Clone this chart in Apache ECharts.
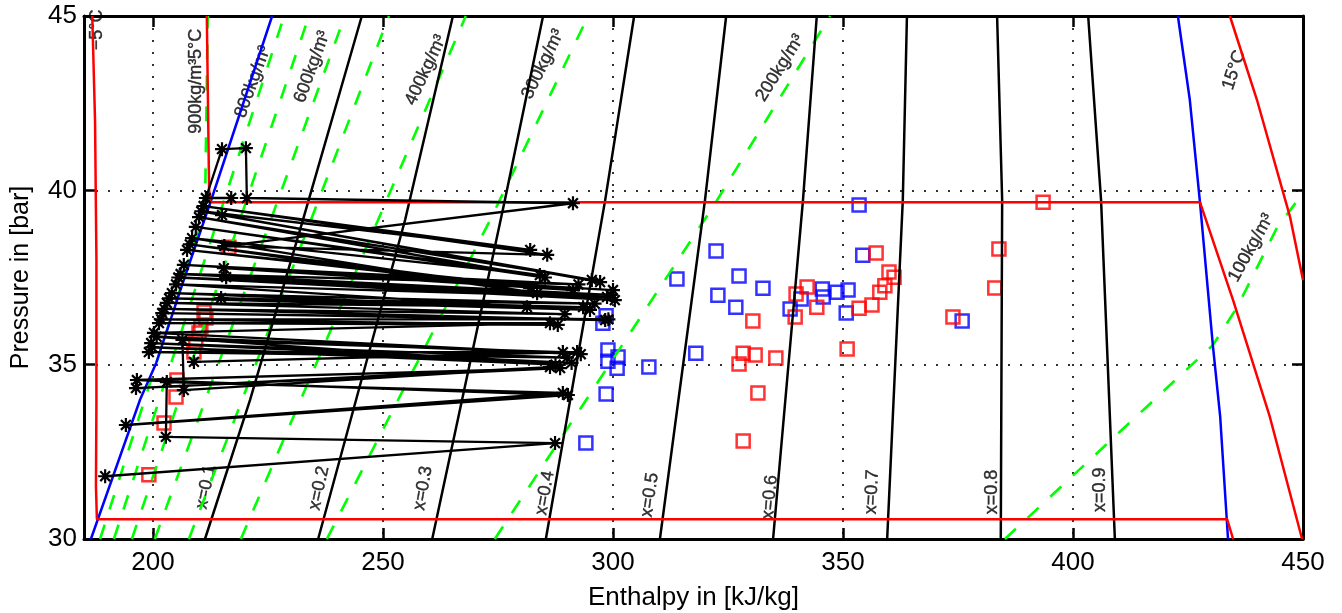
<!DOCTYPE html>
<html>
<head>
<meta charset="utf-8">
<title>p-h diagram</title>
<script src="https://cdn.jsdelivr.net/npm/echarts@6/dist/echarts.min.js"></script>
<style>
  html, body { margin: 0; padding: 0; background: #fff; }
  #chart { width: 1342px; height: 613px; }
</style>
</head>
<body>
<div id="chart"></div>
<script>
// saturation curve (liquid / vapour side), [h kJ/kg, p bar]
var satLiquid = [[186.5,30],[197.2,34.0],[200.7,35.05],[206.7,37.43],[212.8,39.78],[225.9,45]];
var satVapour = [[433.7,30],[432.0,33.5],[430.4,35.56],[427.6,39.66],[425.4,42.59],[422.8,45]];

// isotherms
var isoMinus5 = [[186.8,45],[187.4,42],[187.7,38],[187.7,34],[187.6,31.5],[187.8,30.57],[433.5,30.57],[434.8,30]];
var iso5 = [[211.7,45],[212.2,40.0],[212.5,39.66],[427.6,39.66],[434.8,36.85],[442.8,33.5],[449.8,30.0]];
var iso15 = [[434.1,45],[440.0,42.59],[447.2,39.23],[450,37.43]];

// lines of constant quality
var x01 = [[211.3,30],[221.1,33.99],[232.6,39.15],[245.4,45]];
var x02 = [[235.9,30],[254.8,39.15],[265.2,45]];
var x03 = [[260.7,30],[276.5,39.72],[284.8,45]];
var x04 = [[285.4,30],[298.3,39.72],[304.6,45]];
var x05 = [[310.2,30],[320.0,39.72],[324.6,45]];
var x06 = [[334.8,30],[341.3,39.72],[344.3,45]];
var x07 = [[359.6,30],[363.0,39.72],[363.9,45]];
var x08 = [[384.3,30],[384.6,39.72],[383.5,45]];
var x09 = [[409.1,30],[406.1,39.72],[403.3,45]];

// isochores (kg/m3)
var rho900 = [[188.5,30],[211.3,39.4],[211.9,45]];
var rho800 = [[191.5,30],[228.5,45]];
var rho700 = [[195.4,30],[233.9,45]];
var rho600 = [[200.4,30],[241.7,45]];
var rho500 = [[207.8,30],[251.3,45]];
var rho400 = [[219.1,30],[268.0,45]];
var rho300 = [[237.8,30],[273.3,39.15],[294.6,45]];
var rho200 = [[274.3,30],[321.7,39.52],[347.2,45]];
var rho100 = [[385.2,30],[430.4,35.56],[435.7,36.65],[444.3,38.92],[450,39.92]];

// measured states
var blueSquares = [[353.5,39.58],[322.4,38.26],[313.9,37.46],[327.4,37.54],[332.6,37.19],[322.8,36.99],
  [326.7,36.65],[354.3,38.14],[338.5,36.60],[340.9,36.88],[345.5,37.17],[345.7,36.94],[348.7,37.08],
  [351.1,37.14],[350.7,36.48],[297.8,36.19],[298.5,36.4],[298.9,35.42],[301.1,35.22],[298.9,35.10],
  [300.9,34.90],[307.8,34.93],[318.0,35.33],[298.5,34.16],[294.1,32.75],[375.9,36.25]];
var redSquares = [[330.4,36.25],[342.2,37.23],[339.8,37.03],[339.6,36.37],[344.3,36.65],[353.5,36.62],
  [356.3,36.71],[357.2,38.20],[350.9,35.45],[328.3,35.33],[330.9,35.28],[327.4,35.02],[335.4,35.19],
  [331.5,34.19],[328.3,32.81],[383.9,38.32],[383.0,37.20],[373.9,36.37],[360.0,37.66],[361.1,37.51],
  [359.1,37.26],[358.0,37.08],[393.5,39.66],
  [216.5,38.37],[211.1,36.51],[211.5,36.34],[210.4,36.08],[210.0,35.91],[209.3,35.65],[208.9,35.36],
  [205.2,34.56],[205.0,34.07],[202.4,33.33],[199.1,31.84]];

// cycle trajectory (asterisks)
var cycle = [
  [189.6,31.80],[287.4,32.75],[202.8,32.93],[203.0,34.50],
  [289.1,34.19],[194.1,33.27],[290.2,34.13],[196.5,34.56],
  [288.5,34.90],[196.3,34.33],[286.3,34.93],[206.7,34.27],
  [206.4,35.71],[289.1,35.36],[208.9,35.08],[292.2,35.36],
  [199.1,35.36],[290.0,35.20],[199.6,35.62],[291.0,35.05],
  [199.8,35.50],[287.5,35.00],[200.8,35.80],[293.0,35.30],
  [200.2,35.91],[286.3,36.19],[201.3,36.19],[288.0,36.14],
  [201.8,36.30],[299.0,36.30],[202.0,36.48],[298.3,36.28],
  [202.5,36.60],[289.5,36.45],[203.0,36.77],[293.5,36.65],
  [214.8,36.91],[295.0,36.57],[203.5,36.90],[296.0,36.75],
  [204.1,37.05],[281.3,36.65],[205.0,37.30],[298.7,36.94],
  [215.9,37.51],[300.4,36.85],[205.5,37.50],[299.5,37.00],
  [206.0,37.60],[292.5,37.30],[206.7,37.86],[300.0,37.14],
  [215.4,37.77],[291.3,37.14],[207.4,38.29],[282.0,37.20],
  [208.0,38.45],[283.5,37.05],[208.5,38.63],[284.1,37.57],
  [209.3,38.95],[285.2,37.50],[210.0,39.23],[295.4,37.43],
  [215.0,39.29],[297.2,37.37],[210.5,39.40],[282.0,38.29],
  [211.0,39.55],[285.7,38.15],[215.5,38.40],[291.3,39.63],
  [220.4,39.78],[220.2,41.21],[215.0,41.18],[211.5,39.78],
  [217.0,39.78]
];

// annotation texts: text, h, p, angle
var labelSpots = [
  ['\u22125\u00b0C', 187.8, 44.6, 90],
  ['5\u00b0C', 209.3, 44.2, 90],
  ['900kg/m\u00b3', 209.3, 42.7, 90],
  ['800kg/m\u00b3', 221.7, 43.11, 70],
  ['600kg/m\u00b3', 234.6, 43.54, 70],
  ['400kg/m\u00b3', 259.3, 43.45, 65],
  ['300kg/m\u00b3', 284.8, 43.62, 64],
  ['200kg/m\u00b3', 336.3, 43.51, 58],
  ['100kg/m\u00b3', 438.7, 38.35, 61],
  ['15\u00b0C', 435.0, 43.45, 72],
  ['x=0.1', 211.5, 31.49, 78],
  ['x=0.2', 236.1, 31.46, 78],
  ['x=0.3', 258.7, 31.46, 80],
  ['x=0.4', 285.2, 31.32, 80],
  ['x=0.5', 308.0, 31.26, 82],
  ['x=0.6', 334.1, 31.2, 85],
  ['x=0.7', 356.3, 31.35, 87],
  ['x=0.8', 382.4, 31.35, 90],
  ['x=0.9', 405.9, 31.41, 90]
];

var FONT = 'Liberation Sans, Arial, Helvetica, sans-serif';
var star = 'path://M0,-10L0,10M-10,0L10,0M-7,-7L7,7M-7,7L7,-7';

function curve(data, color, width, dash) {
  return {
    type: 'line', data: data, symbol: 'none', silent: true,
    lineStyle: { color: color, width: width, type: dash || 'solid' }
  };
}

var chart = echarts.init(document.getElementById('chart'));

var series = [];
[rho900, rho800, rho700, rho600, rho500, rho400, rho300, rho200, rho100].forEach(function (d) {
  series.push(curve(d, '#00ff00', 2.6, [15, 16]));
});
[x01, x02, x03, x04, x05, x06, x07, x08, x09].forEach(function (d) {
  series.push(curve(d, '#000', 2.5));
});
series.push(curve(satLiquid, '#0000ff', 2.5));
series.push(curve(satVapour, '#0000ff', 2.5));
series.push(curve(isoMinus5, '#ff0000', 2.5));
series.push(curve(iso5, '#ff0000', 2.5));
series.push(curve(iso15, '#ff0000', 2.5));

series.push({
  type: 'scatter', data: blueSquares, symbol: 'rect', symbolSize: 13, silent: true,
  itemStyle: { color: 'transparent', borderColor: '#0000ff', borderWidth: 2.5 }
});
series.push({
  type: 'line', data: cycle, symbol: star, symbolSize: 14, silent: true,
  lineStyle: { color: '#000', width: 2.3 },
  itemStyle: { color: '#000', borderColor: '#000', borderWidth: 2.2 }
});
series.push({
  type: 'scatter', data: redSquares, symbol: 'rect', symbolSize: 13, silent: true,
  itemStyle: { color: 'transparent', borderColor: '#ff0000', borderWidth: 2.5 }
});
series.push({
  type: 'scatter', symbolSize: 1, silent: true, clip: false,
  itemStyle: { color: 'transparent' },
  data: labelSpots.map(function (s) {
    return {
      value: [s[1], s[2]],
      label: { show: true, position: 'inside', formatter: s[0], rotate: s[3],
               color: '#000', fontSize: 18, fontFamily: FONT,
               textBorderColor: '#000', textBorderWidth: 0.4 }
    };
  })
});

function xAxisDef(pos, main) {
  return {
    type: 'value', position: pos, min: 185, max: 450, minInterval: 50, maxInterval: 50,
    name: main ? 'Enthalpy in [kJ/kg]' : '', nameLocation: 'middle', nameGap: 46,
    nameTextStyle: { color: '#000', fontSize: 26, fontFamily: FONT },
    axisLine: { show: true, onZero: false, lineStyle: { color: '#000', width: 3 } },
    axisTick: { show: true, inside: true, length: 11, lineStyle: { color: '#000', width: 2.5 } },
    axisLabel: { show: main, showMinLabel: false, margin: 11, color: '#000', fontSize: 26, fontFamily: FONT },
    splitLine: { show: main, lineStyle: { color: '#333', width: 2, type: [2, 10] } }
  };
}
function yAxisDef(pos, main) {
  return {
    type: 'value', position: pos, min: 30, max: 45, interval: 5,
    name: main ? 'Pressure in [bar]' : '', nameLocation: 'middle', nameGap: 50,
    nameTextStyle: { color: '#000', fontSize: 25, fontFamily: FONT },
    axisLine: { show: true, onZero: false, lineStyle: { color: '#000', width: 3 } },
    axisTick: { show: true, inside: true, length: 11, lineStyle: { color: '#000', width: 2.5 } },
    axisLabel: { show: main, margin: 7, color: '#000', fontSize: 26, fontFamily: FONT },
    splitLine: { show: main, lineStyle: { color: '#333', width: 2, type: [2, 10] } }
  };
}

var option = {
  animation: false,
  backgroundColor: '#fff',
  grid: { left: 84, right: 39, top: 16, bottom: 74, outerBoundsMode: 'none' },
  xAxis: [xAxisDef('bottom', true), xAxisDef('top', false)],
  yAxis: [yAxisDef('left', true), yAxisDef('right', false)],
  series: series
};
chart.setOption(option);

window.addEventListener('resize', function () {
  chart.resize();
});
</script>
</body>
</html>
